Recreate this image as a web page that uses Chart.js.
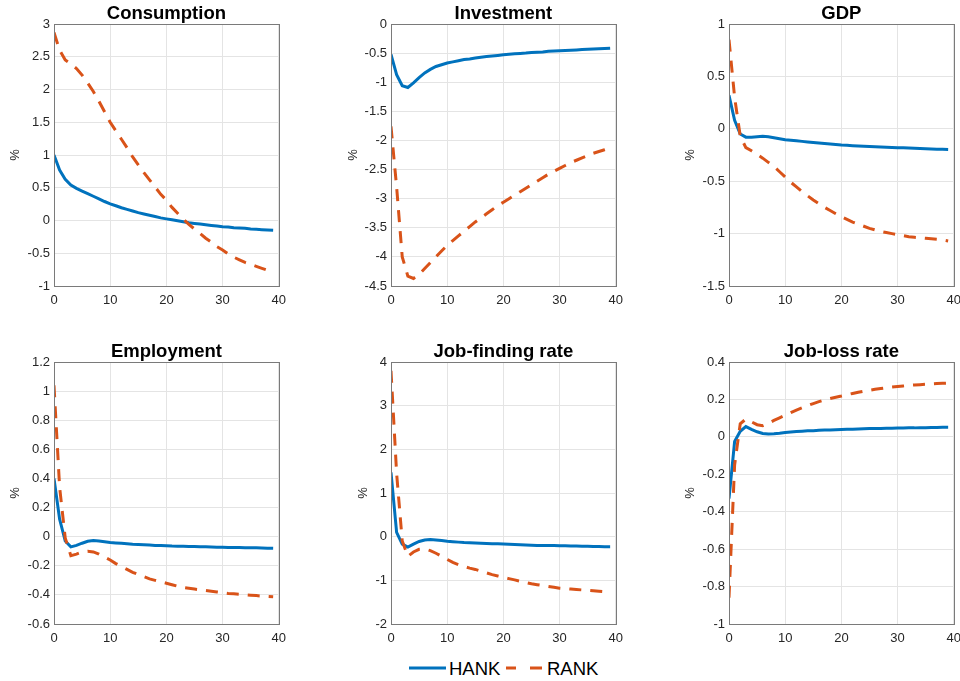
<!DOCTYPE html>
<html>
<head>
<meta charset="utf-8">
<script src="https://cdn.jsdelivr.net/npm/chart.js@4.4.0/dist/chart.umd.min.js"></script>
<style>
  body { margin: 0; background: #fff; width: 960px; height: 681px; position: relative; overflow: hidden;
         font-family: "Liberation Sans", Arial, sans-serif; }
  canvas { position: absolute; }
  .lg { position: absolute; font-size: 18.5px; line-height: 20px; color: #000; }
  .lgline { position: absolute; }
</style>
</head>
<body>
<canvas id="p0" width="293" height="310"></canvas>
<canvas id="p1" width="293" height="310"></canvas>
<canvas id="p2" width="293" height="310"></canvas>
<canvas id="p3" width="293" height="310"></canvas>
<canvas id="p4" width="293" height="310"></canvas>
<canvas id="p5" width="293" height="310"></canvas>

<svg class="lgline" style="left:409px;top:664px" width="38" height="8"><line x1="0" y1="4" x2="37" y2="4" stroke="#0072BD" stroke-width="3"/></svg>
<div class="lg" style="left:449px;top:659px">HANK</div>
<svg class="lgline" style="left:506px;top:664px" width="38" height="8"><line x1="0" y1="4" x2="36" y2="4" stroke="#D95319" stroke-width="3" stroke-dasharray="10 14 12 14"/></svg>
<div class="lg" style="left:547px;top:659px">RANK</div>

<script>
// quarters after the shock
const periods = [0,1,2,3,4,5,6,7,8,9,10,11,12,13,14,15,16,17,18,19,20,21,22,23,24,25,26,27,28,29,30,31,32,33,34,35,36,37,38,39];

const titles = ['Consumption', 'Investment', 'GDP', 'Employment', 'Job-finding rate', 'Job-loss rate'];

const consHank = [1.00,0.77,0.63,0.54,0.49,0.45,0.41,0.37,0.33,0.29,0.255,0.225,0.195,0.17,0.145,0.12,0.10,0.08,0.06,0.04,0.025,0.01,-0.005,-0.02,-0.035,-0.045,-0.055,-0.065,-0.075,-0.085,-0.095,-0.10,-0.11,-0.115,-0.12,-0.13,-0.135,-0.14,-0.145,-0.15];
const consRank = [2.87,2.6,2.45,2.39,2.32,2.22,2.1,1.97,1.82,1.66,1.5,1.37,1.24,1.11,0.97,0.85,0.73,0.62,0.51,0.4,0.31,0.2,0.11,0.02,-0.06,-0.13,-0.2,-0.27,-0.33,-0.4,-0.45,-0.51,-0.56,-0.6,-0.64,-0.67,-0.7,-0.73,-0.76,-0.78];

const invHank = [-0.52,-0.87,-1.06,-1.09,-1.01,-0.92,-0.84,-0.78,-0.73,-0.7,-0.67,-0.65,-0.63,-0.61,-0.6,-0.585,-0.57,-0.56,-0.55,-0.54,-0.53,-0.52,-0.51,-0.505,-0.5,-0.49,-0.485,-0.48,-0.47,-0.465,-0.46,-0.455,-0.45,-0.445,-0.44,-0.435,-0.43,-0.425,-0.42,-0.415];
const invRank = [-1.76,-2.8,-4.0,-4.33,-4.37,-4.3,-4.2,-4.1,-4.0,-3.9,-3.8,-3.72,-3.64,-3.56,-3.48,-3.4,-3.33,-3.26,-3.19,-3.12,-3.06,-3.0,-2.94,-2.88,-2.82,-2.76,-2.7,-2.64,-2.58,-2.53,-2.48,-2.43,-2.38,-2.34,-2.3,-2.26,-2.22,-2.19,-2.16,-2.13];

const gdpHank = [0.32,0.08,-0.05,-0.08,-0.08,-0.075,-0.07,-0.075,-0.085,-0.095,-0.105,-0.11,-0.115,-0.12,-0.125,-0.13,-0.135,-0.14,-0.145,-0.15,-0.155,-0.158,-0.161,-0.164,-0.167,-0.17,-0.172,-0.174,-0.176,-0.178,-0.18,-0.182,-0.184,-0.186,-0.188,-0.19,-0.192,-0.194,-0.196,-0.198];
const gdpRank = [0.85,0.3,-0.07,-0.18,-0.21,-0.245,-0.28,-0.32,-0.36,-0.41,-0.46,-0.51,-0.555,-0.6,-0.64,-0.68,-0.715,-0.75,-0.78,-0.81,-0.84,-0.865,-0.89,-0.91,-0.93,-0.95,-0.965,-0.98,-0.99,-1.0,-1.01,-1.02,-1.03,-1.035,-1.04,-1.045,-1.05,-1.055,-1.06,-1.07];

const empHank = [0.4,0.12,-0.03,-0.07,-0.06,-0.045,-0.032,-0.027,-0.03,-0.035,-0.04,-0.043,-0.046,-0.049,-0.052,-0.054,-0.056,-0.058,-0.06,-0.061,-0.062,-0.064,-0.065,-0.066,-0.067,-0.068,-0.069,-0.07,-0.071,-0.072,-0.073,-0.074,-0.075,-0.075,-0.076,-0.077,-0.077,-0.078,-0.079,-0.08];
const empRank = [1.04,0.34,-0.01,-0.13,-0.12,-0.105,-0.1,-0.105,-0.12,-0.14,-0.16,-0.185,-0.205,-0.225,-0.245,-0.26,-0.275,-0.29,-0.3,-0.31,-0.32,-0.33,-0.34,-0.35,-0.355,-0.36,-0.365,-0.37,-0.375,-0.38,-0.385,-0.39,-0.393,-0.396,-0.399,-0.402,-0.405,-0.408,-0.41,-0.412];

const jfHank = [1.47,0.1,-0.17,-0.24,-0.17,-0.11,-0.075,-0.065,-0.075,-0.09,-0.105,-0.115,-0.125,-0.135,-0.14,-0.145,-0.15,-0.155,-0.16,-0.165,-0.17,-0.175,-0.18,-0.185,-0.19,-0.195,-0.2,-0.2,-0.205,-0.205,-0.21,-0.21,-0.215,-0.215,-0.22,-0.22,-0.225,-0.225,-0.23,-0.23];
const jfRank = [3.8,1.45,-0.1,-0.45,-0.35,-0.29,-0.28,-0.32,-0.38,-0.45,-0.52,-0.59,-0.64,-0.68,-0.72,-0.75,-0.79,-0.83,-0.87,-0.9,-0.93,-0.96,-0.99,-1.02,-1.05,-1.08,-1.1,-1.12,-1.14,-1.16,-1.18,-1.19,-1.2,-1.21,-1.22,-1.23,-1.24,-1.25,-1.26,-1.26];

const jlHank = [-0.33,-0.025,0.03,0.055,0.04,0.027,0.018,0.015,0.016,0.019,0.023,0.026,0.028,0.03,0.032,0.033,0.035,0.036,0.037,0.038,0.039,0.04,0.041,0.042,0.043,0.044,0.044,0.045,0.046,0.046,0.047,0.047,0.048,0.048,0.049,0.049,0.05,0.05,0.051,0.051];
const jlRank = [-0.86,-0.15,0.07,0.095,0.08,0.065,0.06,0.072,0.088,0.102,0.115,0.13,0.143,0.155,0.167,0.178,0.188,0.197,0.205,0.212,0.218,0.225,0.232,0.238,0.244,0.249,0.254,0.258,0.262,0.266,0.269,0.272,0.275,0.277,0.279,0.281,0.283,0.285,0.286,0.287];

const hankSeries = [consHank, invHank, gdpHank, empHank, jfHank, jlHank];
const rankSeries = [consRank, invRank, gdpRank, empRank, jfRank, jlRank];

// y-axis limits and tick step of each panel
const yMin  = [-1, -4.5, -1.5, -0.6, -2, -1];
const yMax  = [3, 0, 1, 1.2, 4, 0.4];
const yStep = [0.5, 0.5, 0.5, 0.2, 1, 0.2];

// where each panel sits on the page
const layout = [
  {left: 0,   top: 0,   pctPad: 7.2},
  {left: 337, top: 0,   pctPad: 8.2},
  {left: 675, top: 0,   pctPad: 7.2},
  {left: 0,   top: 338, pctPad: 7.2},
  {left: 337, top: 338, pctPad: 18.5},
  {left: 675, top: 338, pctPad: 7.2}
];

const FONT = "'Liberation Sans', Arial, Helvetica, sans-serif";
const TICK = '#262626';

// MATLAB style box round the axes
const boxPlugin = {
  id: 'box',
  afterDraw(chart) {
    const a = chart.chartArea;
    const ctx = chart.ctx;
    ctx.save();
    ctx.strokeStyle = '#7a7a7a';
    ctx.lineWidth = 1;
    ctx.strokeRect(Math.round(a.left) + 0.5, Math.round(a.top) + 0.5, Math.round(a.right - a.left), Math.round(a.bottom - a.top));
    ctx.restore();
  }
};

function fmt(v) {
  return String(Math.round(v * 100) / 100);
}

titles.forEach((title, i) => {
  const pos = layout[i];
  const cv = document.getElementById('p' + i);
  cv.style.left = pos.left + 'px';
  cv.style.top = pos.top + 'px';

  new Chart(cv, {
    type: 'line',
    data: {
      datasets: [
        {
          label: 'RANK',
          data: periods.map((t, k) => ({x: t, y: rankSeries[i][k]})),
          borderColor: '#D95319',
          borderWidth: 3,
          borderDash: [12, 9],
          pointRadius: 0,
          tension: 0,
          fill: false,
          order: 0
        },
        {
          label: 'HANK',
          data: periods.map((t, k) => ({x: t, y: hankSeries[i][k]})),
          borderColor: '#0072BD',
          borderWidth: 3,
          pointRadius: 0,
          tension: 0,
          fill: false,
          order: 1
        }
      ]
    },
    options: {
      responsive: false,
      animation: false,
      devicePixelRatio: 1,
      layout: {padding: {left: 0, right: 14, top: 0, bottom: 0}},
      plugins: {
        legend: {display: false},
        tooltip: {enabled: false},
        title: {
          display: true,
          text: title,
          fullSize: false,
          color: '#000',
          font: {family: FONT, size: 18.5, weight: 'bold', lineHeight: 1.1},
          padding: {top: 3.65, bottom: 0}
        }
      },
      scales: {
        x: {
          type: 'linear',
          min: 0,
          max: 40,
          border: {display: false},
          grid: {color: '#e4e4e4', drawTicks: false},
          ticks: {stepSize: 10, color: TICK, padding: 7, maxRotation: 0,
                  font: {family: FONT, size: 13}},
          afterFit(scale) { scale.height = 24; }
        },
        y: {
          min: yMin[i],
          max: yMax[i],
          border: {display: false},
          grid: {color: '#e4e4e4', drawTicks: false},
          ticks: {stepSize: yStep[i], autoSkip: false, color: TICK, padding: 4,
                  font: {family: FONT, size: 13}, callback: fmt},
          title: {display: true, text: '%', color: TICK,
                  font: {family: FONT, size: 13}, padding: {top: pos.pctPad, bottom: 0}},
          afterFit(scale) { scale.width = 54; }
        }
      }
    },
    plugins: [boxPlugin]
  });
});
</script>
</body>
</html>
